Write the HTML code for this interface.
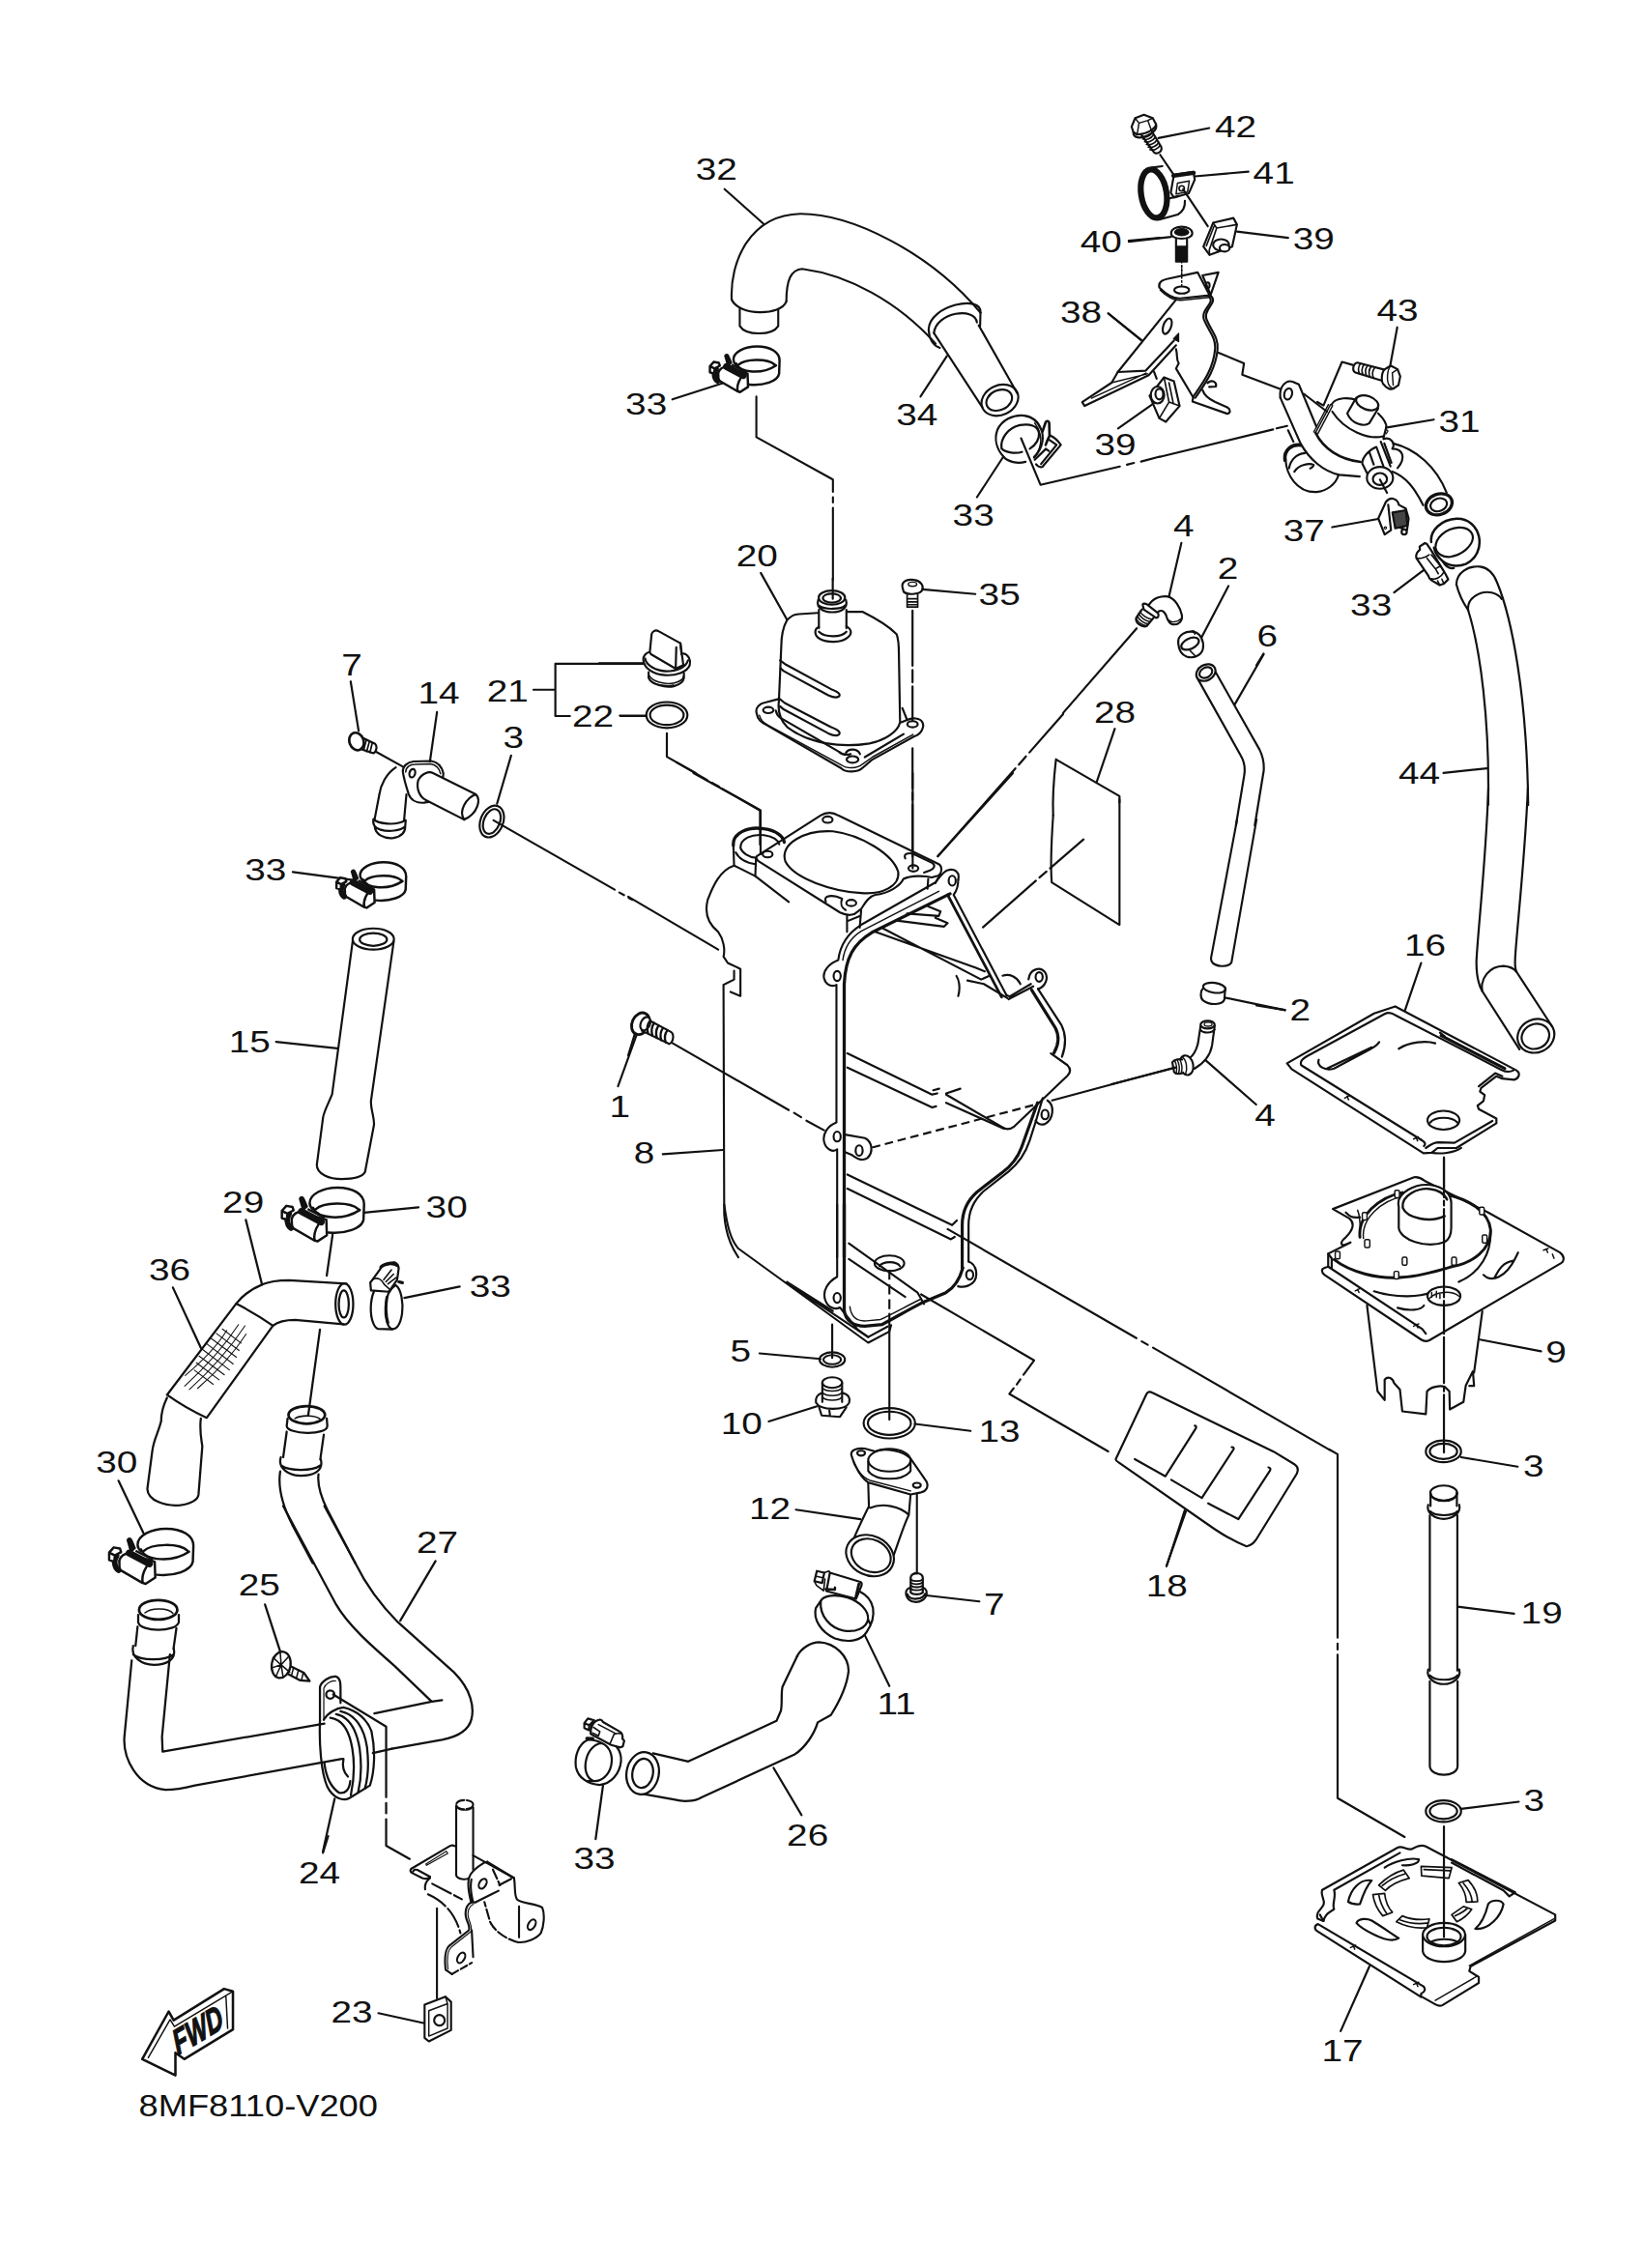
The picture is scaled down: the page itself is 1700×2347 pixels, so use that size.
<!DOCTYPE html>
<html><head><meta charset="utf-8"><title>8MF8110-V200</title>
<style>
html,body{margin:0;padding:0;background:#fff}
svg{display:block}
.d{fill:none;stroke:#111;stroke-width:2;stroke-linecap:round;stroke-linejoin:round}
.t{font-family:"Liberation Sans",Arial,sans-serif;fill:#111;stroke:none}
.w{fill:#fff}
.k{fill:#111}
</style></head><body>
<svg width="1700" height="2347" viewBox="0 0 1700 2347">
<rect width="1700" height="2347" fill="#fff"/>
<!-- tile [600,100,1200,600] scale 2.7383 -->
<g transform="translate(600,100) scale(0.365193)" class="d" style="stroke-width:5.82">
<!-- hose 32 -->
<path d="M430,575 C425,470 480,335 625,332 C770,332 990,440 1135,612"/>
<path d="M585,580 C585,520 598,490 630,488 C760,505 900,580 1008,700"/>
<path d="M430,575 C450,622 570,622 585,580"/>
<path d="M453,602 V650 C470,678 545,678 562,650 V603"/>
<!-- collar -->
<path d="M1135,612 C1140,560 990,590 988,660 C990,690 1000,705 1020,712"/>
<path d="M1125,640 C1120,595 1010,610 1003,670"/>
<path d="M1135,612 L1134,650"/>
<!-- tube 34 -->
<path d="M1003,670 L1140,880"/>
<path d="M1130,648 L1240,842"/>
<ellipse cx="1190" cy="860" rx="54" ry="42" transform="rotate(-25 1190 860)"/>
<ellipse cx="1188" cy="860" rx="38" ry="28" transform="rotate(-25 1188 860)"/>
<!-- leaders -->
<path d="M410,262 L520,360"/>
<path d="M1040,735 L965,850"/>
<path d="M262,858 L405,812"/>
<path d="M1125,1135 L1200,1020"/>
<!-- dash line from clamp to 20 -->
<path d="M500,850 V965 L717,1085 V1120 M717,1135 V1150 M717,1165 V1369"/>
<!-- clamp 33 right: see l01 -->
<path d="M1250,968 L1305,1100 L1530,1048 M1550,1043 L1570,1038 M1590,1034 L1643,1020"/>
<!-- leaders right side -->
<path d="M1555,408 L1643,400"/>
<path d="M1498,615 L1590,690"/>
<path d="M1525,940 L1625,870"/>
</g>

<!-- tile [1100,100,1400,350] scale 5.4767 -->
<g transform="translate(1100,100) scale(0.182593)" class="d" style="stroke-width:11.76">
<!-- bolt 42 -->
<path d="M440,212 L512,312 C525,335 565,312 556,285 L500,192" class="w"/>
<path d="M452,240 C470,250 500,238 512,215 M462,255 C480,265 510,250 522,230 M472,270 C490,280 520,265 532,245 M482,285 C500,295 530,280 542,260 M492,300 C510,310 540,295 550,275 M447,225 C465,235 495,225 505,202" style="stroke-width:9"/>
<path d="M398,200 C395,235 440,240 475,222 C510,205 535,180 525,155" />
<path d="M388,170 L408,122 L458,103 L508,122 L527,158 C520,185 470,215 420,215 L398,200 Z" class="w"/>
<path d="M408,122 L430,150 L480,135 L508,122 M430,150 L420,212 M480,135 L500,190" style="stroke-width:8"/>
<path d="M540,235 L828,178"/>
<path d="M550,330 L625,440"/>
<!-- ring 41 -->
<path d="M505,402 L562,394"/>
<ellipse cx="514" cy="550" rx="72" ry="138" transform="rotate(-9 514 550)" style="stroke-width:34"/>
<path d="M628,442 L738,426 L746,470 L712,548 L628,572 L610,545 Z" class="w"/>
<path d="M625,448 L740,432" style="stroke-width:24"/>
<path d="M648,490 L715,478 L705,540 L640,552 Z" style="stroke-width:8"/>
<circle cx="672" cy="520" r="15" style="stroke-width:9"/>
<path d="M545,697 L650,668 C680,650 692,625 690,590"/>
<path d="M600,578 L655,562"/>
<path d="M746,452 L1050,425"/>
<path d="M680,525 L820,735"/>
<!-- nut 39 upper -->
<path d="M795,850 L850,715 L965,688 L985,725 L958,850 L830,897 Z" class="w"/>
<path d="M850,715 L870,745 L985,725 M870,745 L828,870 L830,897 M812,845 L855,735" style="stroke-width:9"/>
<ellipse cx="895" cy="840" rx="45" ry="32" class="w"/>
<ellipse cx="915" cy="858" rx="28" ry="20" class="w"/>
<path d="M985,765 L1275,800"/>
<!-- bolt 40 -->
<path d="M612,775 C612,725 732,725 732,775 C732,815 612,815 612,775 Z" class="w"/>
<ellipse cx="672" cy="768" rx="40" ry="20" class="k" style="stroke-width:6"/>
<path d="M640,808 V850 M702,808 V850"/>
<rect x="640" y="850" width="62" height="85" class="k"/>
<path d="M372,822 L612,795"/>
<path d="M672,960 V1100" stroke-dasharray="14 8" style="stroke-width:8;stroke-linecap:butt"/>
</g>

<!-- tile [1100,270,1400,520] scale 5.4767 -->
<g transform="translate(1100,270) scale(0.182593)" class="d" style="stroke-width:11.76">
<!-- bracket 38 -->
<path d="M790,82 L880,65 L836,192 Z"/>
<ellipse cx="820" cy="138" rx="10" ry="16"/>
<path d="M545,150 C538,120 560,108 600,100 L762,65 L830,195 L665,212 C620,215 580,185 545,150 Z" class="w"/>
<path d="M550,165 C585,200 625,225 668,223 L828,207" style="stroke-width:8"/>
<ellipse cx="672" cy="165" rx="42" ry="20"/>
<path d="M672,0 V150" stroke-dasharray="14 8" style="stroke-width:8;stroke-linecap:butt"/>
<path d="M640,220 L310,630"/>
<path d="M255,297 L445,450"/>
<path d="M838,198 C880,240 792,270 812,330 C840,400 880,430 875,500 C865,620 800,700 750,775"/>
<path d="M826,200 C866,242 778,270 798,332 C826,402 866,432 861,500 C851,616 788,696 738,768 L733,797 L930,866 C952,862 948,840 930,830 L862,800 C830,785 800,762 790,732"/>
<path d="M818,692 C845,668 872,688 866,712 L828,714"/>
<ellipse cx="590" cy="370" rx="22" ry="46" transform="rotate(20 590 370)"/>
<path d="M625,442 L655,410 L655,458 Z" class="k" style="stroke-width:6"/>
<path d="M310,630 L468,622 L628,452"/>
<path d="M310,630 L275,690 L108,800 L122,822 L485,648 L640,478"/>
<path d="M275,690 L478,640 M160,778 L470,636" style="stroke-width:8"/>
<path d="M640,500 C650,540 640,560 655,580 L640,610 L738,775"/>
<path d="M515,628 L530,668"/>
<!-- nut 39 lower -->
<path d="M490,765 L572,660 L628,682 L660,822 L582,912 L545,892 Z" class="w"/>
<path d="M572,660 L600,800 L660,822 M600,800 L545,892 M600,690 L625,810" style="stroke-width:9"/>
<ellipse cx="535" cy="760" rx="38" ry="48" class="w"/>
<ellipse cx="545" cy="755" rx="22" ry="30" class="w"/>
<!-- step line to pump -->
<path d="M880,520 L1025,580 L1015,645 L1280,745"/>
<!-- long dash line -->
<path d="M548,1110 L1190,955 M1210,949 L1270,935 M1275,960 L1305,1025"/>
</g>

<!-- tile [1300,300,1600,550] scale 5.4767 -->
<g transform="translate(1300,300) scale(0.182593)" class="d" style="stroke-width:11.76">
<path d="M798,212 L758,430"/>
<!-- bolt 43 -->
<path d="M572,412 C545,418 540,462 565,470 L735,522 L748,458 Z" class="w"/>
<path d="M590,418 C575,435 575,460 585,476 M610,424 C595,440 595,466 605,482 M630,430 C615,446 615,472 625,488 M650,436 C635,452 635,478 645,494 M670,442 C655,458 655,484 665,500" style="stroke-width:9"/>
<path d="M735,445 C710,455 700,520 725,540 C735,560 765,565 775,560 L805,540 L815,490 L800,450 L762,430 Z" class="w"/>
<path d="M762,430 C740,450 735,520 755,545 M755,545 L775,560 M800,450 L770,470 L775,540" style="stroke-width:8"/>
<path d="M545,425 L485,408 L380,655 L345,635"/>
<!-- left hose elbow -->
<path d="M165,960 C170,1050 230,1150 340,1145 C400,1140 450,1100 465,1050"/>
<path d="M162,965 C155,905 200,872 255,880" style="stroke-width:20"/>
<path d="M215,1030 C240,990 300,980 325,992 C322,1002 315,1008 305,1012"/>
<path d="M185,1010 C195,960 230,930 275,925"/>
<!-- arm -->
<path d="M135,610 C128,545 170,508 205,520 L240,535 L340,775 L420,650 L560,625 L735,780 L720,840 L600,975 L585,1058 L470,1048 C380,1030 300,960 250,870 Z" fill="#fff" stroke="none"/>
<path d="M135,610 C128,545 170,508 205,520 L240,535 L340,775"/>
<path d="M135,610 L250,870 C300,960 380,1030 470,1048 L585,1058"/>
<path d="M270,590 L400,690"/>
<ellipse cx="180" cy="590" rx="22" ry="32" transform="rotate(15 180 590)"/>
<!-- body -->
<path d="M335,810 C380,900 470,960 590,975" style="stroke-width:14"/>
<path d="M420,650 L335,810 M408,650 L325,805 M432,655 L348,815" style="stroke-width:8"/>
<path d="M425,650 C450,605 530,610 570,625 M690,700 C720,730 740,760 735,780"/>
<path d="M430,690 C500,800 640,850 718,830"/>
<path d="M735,780 L720,840"/>
<!-- top port -->
<path d="M565,612 L515,700 C540,760 610,778 640,755 L690,672" class="w"/>
<ellipse cx="628" cy="640" rx="66" ry="38" transform="rotate(20 628 640)" class="w"/>
<!-- leader 31 -->
<path d="M1005,735 L740,780"/>
<path d="M735,790 L745,800 L735,815" style="stroke-width:7"/>
<!-- right hose elbow -->
<path d="M775,870 C900,900 1020,1000 1078,1150"/>
<path d="M770,1030 C850,1060 900,1130 945,1220"/>
<ellipse cx="1035" cy="1215" rx="76" ry="58" transform="rotate(-20 1035 1215)" style="stroke-width:18" class="w"/>
<ellipse cx="1033" cy="1218" rx="48" ry="36" transform="rotate(-20 1033 1218)"/>
<!-- sensor boss -->
<path d="M720,845 C760,830 790,870 770,900 C830,900 850,950 800,1010"/>
<path d="M705,860 L760,1000 M725,870 L765,980" style="stroke-width:12"/>
<path d="M630,1045 L600,985 C598,950 640,905 680,890 L720,1000" class="w"/>
<path d="M640,920 L665,990"/>
<ellipse cx="700" cy="1065" rx="74" ry="62" class="w"/>
<ellipse cx="700" cy="1072" rx="40" ry="34"/>
<path d="M700,1075 L740,1150"/>
</g>

<!-- tile [1300,500,1700,833] scale 4.1075 -->
<g transform="translate(1300,500) scale(0.243457)" class="d" style="stroke-width:8.96">
<!-- sensor 37 -->
<path d="M518,150 L550,80 C570,55 600,65 605,92 L635,108 L647,150 L640,200 L612,190 M518,150 L545,218 L572,200 L560,92"/>
<path d="M578,125 L635,115 L642,180 L590,192 Z" fill="#444"/>
<circle cx="628" cy="207" r="11" class="w"/>
<circle cx="548" cy="190" r="5" style="stroke-width:5"/>
<path d="M322,187 L518,152"/>
<path d="M585,465 L710,370"/>
<!-- hose 44 upper -->
<path d="M850,430 C850,380 900,350 950,355 C990,360 1010,390 1022,420 C1085,570 1150,900 1155,1368"/>
<path d="M850,430 C860,470 880,510 900,540 C950,700 992,1000 985,1368"/>
<path d="M900,540 C893,490 950,455 1000,465 C1020,470 1035,480 1042,492"/>
<path d="M795,1232 L980,1212"/>
<path d="M30,725 L0,775"/>
</g>

<!-- tile [1300,820,1700,1153] scale 4.1075 -->
<g transform="translate(1300,820) scale(0.243457)" class="d" style="stroke-width:8.96">
<path d="M986,-20 C975,300 940,600 935,720 C935,780 945,820 960,845 L1118,1092"/>
<path d="M1154,-20 C1140,300 1105,600 1100,700 C1098,730 1100,750 1105,762 L1255,992"/>
<path d="M960,845 C950,790 990,740 1050,738 C1080,740 1095,750 1105,762"/>
<ellipse cx="1188" cy="1035" rx="80" ry="70" transform="rotate(-25 1188 1035)"/>
<ellipse cx="1186" cy="1037" rx="60" ry="52" transform="rotate(-25 1186 1037)"/>
<path d="M700,725 L632,925"/>
<path d="M0,905 L120,925"/>
</g>
<!-- tile [1300,1020,1700,1353] -->
<g transform="translate(1300,1020) scale(0.243457)" class="d" style="stroke-width:8.96">
<!-- plate 16 -->
<path d="M130,330 L500,118 L590,88 L1105,360 C1125,372 1115,395 1095,400 L1045,395 L1020,385 L955,435 L950,450 L970,465 L965,490 L940,510 L945,525 L1020,565 L1020,585 L850,690 L770,690 L745,710 L710,712 L150,355 Z"/>
<path d="M700,655 L190,338 C185,320 195,312 215,300 L545,120 C560,112 575,115 590,125 L1040,357 C1060,367 1080,367 1092,360"/>
<path d="M700,655 C715,665 722,672 712,682 M720,690 C735,680 750,666 775,666 L842,668 L1003,575"/>
<path d="M1045,385 L1015,372 L945,428"/>
<path d="M785,212 L1055,352" style="stroke-width:13"/>
<path d="M780,200 L800,215" />
<path d="M265,315 C255,340 290,365 330,352 L480,272 C495,265 515,250 522,240 M300,352 L490,262"/>
<path d="M605,268 C650,240 720,232 760,245"/>
<ellipse cx="795" cy="572" rx="68" ry="40"/>
<path d="M738,582 C760,555 830,555 855,582"/>
<path d="M745,710 C780,716 840,712 870,690"/>
<path d="M375,478 L395,468 M385,470 L392,485 M668,652 L688,642 M678,645 L685,660" style="stroke-width:6"/>
<path d="M797,735 V900 M797,915 V935 M797,950 V1330"/>
</g>

<!-- tile [1300,1200,1700,1533] scale 4.1075 -->
<g transform="translate(1300,1200) scale(0.243457)" class="d" style="stroke-width:8.96">
<!-- pump 9 funnel body -->
<path d="M470,620 L515,985 L545,1022 L545,935 C560,918 580,930 585,950 L610,978 L620,1070 L720,1082 L725,985 C740,965 780,960 800,965 L820,985 L822,1062 L880,1030 L890,960 L920,900 L925,962 L905,962"/>
<path d="M960,645 L925,905"/>
<!-- base plate -->
<path d="M325,210 L670,75 C690,72 700,78 715,90 L985,225 L1290,395 C1310,410 1310,430 1295,440 L735,768 C720,775 710,772 700,765 L290,490 C275,478 275,465 290,460 L305,455 L305,400 L400,352 L370,365 C355,360 360,345 380,330 C410,300 420,270 395,250 Z" class="w"/>
<path d="M305,455 L705,720 L720,740 M305,400 L320,420 L320,462 M380,225 C395,240 405,250 440,245"/>
<path d="M600,630 C650,645 700,640 712,620"/>
<!-- lid -->
<path d="M995,300 C1000,400 950,480 860,520 M500,560 C600,592 700,582 740,565"/>
<path d="M330,425 C400,480 520,510 620,500 C700,495 780,470 830,455 C920,440 998,380 995,300 C990,220 900,170 815,150" style="stroke-width:12"/>
<path d="M440,330 C430,240 520,160 620,140" style="stroke-width:12"/>
<path d="M455,335 C445,250 530,175 625,155 M430,215 C445,250 440,300 440,330" style="stroke-width:6"/>
<!-- top port -->
<path d="M605,290 V200 C590,140 680,100 740,108 C800,116 830,150 828,190 V290 C828,320 820,340 800,350 C720,380 610,340 605,290 Z" class="w"/>
<path d="M622,205 C615,150 690,118 740,125 C770,128 800,145 810,170 M622,205 C640,250 740,270 800,240" style="stroke-width:10"/>
<!-- studs -->
<g class="w" style="stroke-width:6">
<rect x="588" y="130" width="20" height="32" rx="6"/><rect x="450" y="225" width="20" height="32" rx="6"/><rect x="460" y="340" width="22" height="34" rx="6"/><rect x="335" y="390" width="20" height="32" rx="6"/><rect x="620" y="415" width="20" height="34" rx="6"/><rect x="585" y="475" width="20" height="32" rx="6"/><rect x="830" y="415" width="20" height="34" rx="6"/><rect x="960" y="320" width="20" height="34" rx="6"/><rect x="948" y="202" width="20" height="32" rx="6"/>
</g>
<!-- hole -->
<ellipse cx="797" cy="580" rx="70" ry="40" class="w"/>
<path d="M735,590 C760,560 830,555 860,580 M745,565 V585 M765,560 V585 M780,570 V590" style="stroke-width:6"/>
<!-- swoosh -->
<path d="M965,490 C1000,525 1060,500 1100,420 L1112,395 M1010,505 C1030,470 1040,440 1092,430"/>
<path d="M1220,385 L1240,378 M1232,380 L1238,395 M1258,402 L1265,420 M420,558 L440,548 M430,552 L436,565 M668,708 L690,698 M680,700 L686,715" style="stroke-width:6"/>
<!-- axis -->
<path d="M797,-10 V160 M797,175 V195 M797,210 V585 M797,600 V740 M797,755 V950 M797,965 V985 M797,1000 V1245"/>
<path d="M950,765 L1210,815"/>
<!-- o-ring 3 -->
<ellipse cx="795" cy="1240" rx="75" ry="46"/>
<ellipse cx="795" cy="1240" rx="58" ry="33"/>
<path d="M870,1265 L1110,1305"/>
</g>

<!-- tile [1300,1500,1700,1833] scale 4.1075 -->
<g transform="translate(1300,1500) scale(0.243457)" class="d" style="stroke-width:8.96">
<!-- tube 19 -->
<path d="M740,185 V240 M852,185 V240"/>
<ellipse cx="796" cy="185" rx="57" ry="32"/>
<path d="M740,185 C745,230 850,230 852,185" />
<path d="M730,235 C720,270 760,295 796,295 C832,295 872,270 862,235"/>
<path d="M738,262 C760,285 835,285 855,262"/>
<path d="M737,280 V940 M854,280 V940 M737,985 V1347 C742,1395 852,1395 855,1347 V985"/>
<path d="M730,935 C720,972 760,997 796,997 C832,997 872,972 862,935"/>
<path d="M737,960 C760,985 835,985 855,960"/>
<path d="M855,668 L1095,698"/>
<!-- vertical long line -->
<path d="M310,0 L345,20 V800 M345,825 V850 M345,872 V1482 L630,1647"/>
<!-- part 18 corner -->
</g>
<!-- tile [1300,1800,1700,2133] -->
<g transform="translate(1300,1800) scale(0.243457)" class="d" style="stroke-width:8.96">
<ellipse cx="795" cy="305" rx="75" ry="46"/>
<ellipse cx="795" cy="305" rx="58" ry="33"/>
<path d="M870,295 L1115,265"/>
<!-- plate 17 -->
<path d="M280,640 L600,460 C620,450 640,472 660,466 C680,455 700,445 720,455 L1270,745 L1270,770 L910,965 L905,985 L945,1010 L945,1035 L790,1130 C780,1135 770,1132 760,1126 L700,1092 L700,1080 C716,1075 720,1060 710,1050 L262,785 C245,790 245,808 260,816 L700,1095" />
<path d="M280,640 C270,660 292,680 286,700 C280,722 250,732 260,762 L285,772"/>
<path d="M330,640 L610,482 M330,640 C340,670 320,700 330,722 C300,740 290,750 285,772 M270,745 L285,772"/>
<path d="M905,962 L1265,762 M760,1110 L940,1005" style="stroke-width:6"/>
<path d="M830,510 L1100,650 L1075,667 L1050,642 L830,524" />
<g style="stroke-width:7">
<path d="M520,620 C550,590 590,565 625,555 L650,590 C610,600 570,620 548,642 Z M535,622 C560,600 595,582 630,572"/>
<path d="M700,540 L830,545 L818,590 L702,580 Z M712,553 L822,558"/>
<path d="M860,610 L900,598 C925,625 940,660 940,690 L892,692 C892,665 880,635 860,610 Z M880,612 C905,640 915,665 917,690"/>
<path d="M830,745 L880,710 L915,722 C900,745 880,762 852,775 Z M845,750 C870,738 890,725 898,716"/>
<path d="M595,775 L620,750 C655,765 700,768 735,763 L725,800 C680,805 635,795 595,775 Z M612,768 C650,782 695,785 730,780"/>
<path d="M495,660 L545,655 C548,685 560,715 578,735 L537,750 C515,725 500,695 495,660 Z M520,660 C525,690 535,715 555,742"/>
</g>
<path d="M390,690 C400,640 440,590 490,600 C470,620 450,670 440,700 C420,702 400,697 390,690 Z"/>
<path d="M545,545 C580,520 650,500 690,510 C692,530 650,537 620,535"/>
<path d="M985,700 C1000,680 1040,680 1050,700 C1040,750 990,810 930,805 C960,780 975,740 985,700 Z"/>
<path d="M425,780 C435,760 470,760 490,770 C540,800 580,830 605,845 C580,862 540,850 500,830 C470,815 440,800 425,780 Z"/>
<!-- boss -->
<path d="M707,830 V900 C715,960 880,960 888,900 V830" class="w"/>
<ellipse cx="797" cy="830" rx="90" ry="50" class="w"/>
<ellipse cx="797" cy="838" rx="72" ry="38"/>
<path d="M740,862 C770,845 830,845 856,862"/>
<path d="M797,370 V840"/>
<path d="M400,885 L422,875 M412,878 L418,892 M668,1042 L690,1032 M680,1035 L686,1050" style="stroke-width:6"/>
<path d="M480,965 L358,1240"/>
</g>

<!-- tile [0,1900,600,2347] scale 2.7383 -->
<g transform="translate(0,1900) scale(0.365193)" class="d" style="stroke-width:5.82">
<!-- FWD arrow -->
<path d="M403,632 L478,497 L492,522 L635,433 L660,440 L660,548 L522,632 L497,614 L497,678 Z" style="stroke-width:7"/>
<path d="M420,628 L482,520 L494,540 L640,452 M640,452 L660,440 M640,452 L645,545" style="stroke-width:4"/>
<!-- clip 23 -->
<path d="M1203,478 L1262,455 L1278,470 L1278,550 L1215,582 L1203,572 Z" class="w"/>
<path d="M1215,495 L1268,475 V545 L1215,567 Z M1262,455 L1268,475" style="stroke-width:4"/>
<circle cx="1245" cy="522" r="15" style="stroke-width:6"/>
<path d="M1072,502 L1200,530"/>
<path d="M1238,205 V460"/>
<path d="M930,0 L915,48"/>
</g>
<g class="t">
<text transform="translate(184,2127) rotate(-31) skewX(-12) scale(0.72,1)" font-size="35" font-weight="bold" font-style="italic" stroke="#111" stroke-width="1.3">FWD</text>
<text x="143.5" y="2189.6" font-size="32.2" textLength="247.5" lengthAdjust="spacingAndGlyphs">8MF8110-V200</text>
</g>

<!-- tile [700,560,1100,893] scale 4.1075 -->
<g transform="translate(700,560) scale(0.243457)" class="d" style="stroke-width:8.96">
<path d="M358,135 L470,335"/>
<path d="M664,160 V245"/>
<!-- part 20 -->
<path d="M470,335 C490,315 500,312 520,310 L600,305 M725,300 L790,300 C850,330 900,360 935,395 C945,420 945,450 945,480 L950,770 M470,335 C450,370 445,400 445,450 L435,680 C430,720 440,760 470,790 C560,860 700,880 820,860 C890,845 940,810 950,770"/>
<ellipse cx="660" cy="240" rx="56" ry="30"/>
<ellipse cx="660" cy="242" rx="38" ry="19"/>
<path d="M602,250 C592,285 625,302 662,302 C700,302 730,285 720,250 M606,275 C630,292 700,292 718,272"/>
<path d="M605,292 V370 M722,292 V370"/>
<path d="M605,365 C583,375 585,402 610,416 C640,432 700,432 725,411 C748,395 745,375 722,362 M605,385 C630,410 700,410 722,385"/>
<path d="M440,507 L465,525 L655,628 C685,640 700,650 690,660 C680,668 660,662 645,655 L455,552 L442,540"/>
<path d="M435,668 L460,688 L655,790 C685,802 700,812 690,822 C680,830 660,824 645,817 L455,715 L440,702"/>
<path d="M430,672 L380,685 C350,690 335,710 340,730 C345,760 360,770 380,780 L700,965 C720,985 770,985 795,960 L830,930 L1010,830 C1040,820 1055,790 1045,770 C1035,750 1000,750 980,760 L955,770"/>
<path d="M422,720 C425,735 428,742 440,750 L690,895 C700,905 720,910 740,905 M800,918 L965,820 M960,710 L980,760"/>
<path d="M720,900 C730,880 770,880 780,905" />
<path d="M352,740 C358,762 368,770 388,782 L702,952 C722,968 768,968 790,948 L832,918 L1005,822" style="stroke-width:6"/>
<ellipse cx="390" cy="718" rx="22" ry="13"/>
<ellipse cx="748" cy="928" rx="25" ry="14"/>
<ellipse cx="1003" cy="778" rx="22" ry="13"/>
<!-- bolt 35 -->
<path d="M960,195 C955,170 985,160 1010,165 C1040,170 1050,190 1045,205 C1040,225 985,232 965,215 Z"/>
<ellipse cx="1003" cy="183" rx="18" ry="9" style="stroke-width:6"/>
<path d="M980,228 V280 H1025 V225 M980,245 H1025 M980,258 H1025 M980,270 H1025" style="stroke-width:7"/>
<path d="M1045,205 L1270,225"/>
<path d="M1003,295 V530 M1003,548 V600 M1003,618 V762 M1003,880 V1050 M1003,1070 V1100 M1003,1120 V1340"/>
<path d="M1643,735 L1500,898 M1485,915 L1455,950 M1440,966 L1110,1340"/>
<path d="M0,940 L130,1015 M150,1027 L180,1043 M195,1053 L355,1145 V1290"/>
</g>

<!-- tile [650,800,1250,1300] scale 2.7383 -->
<g transform="translate(650,800) scale(0.365193)" class="d" style="stroke-width:5.82">
<!-- tank left body -->
<path d="M300,262 C260,275 240,320 225,360 C215,400 230,430 255,450 C270,470 275,500 270,520 L282,538 L318,555 L318,632 L290,620 M270,600 L300,585 L300,560 M270,600 L272,1250 C275,1300 290,1340 312,1372"/>
<!-- filler neck -->
<path d="M298,205 C295,170 340,150 385,158 C420,163 440,180 442,196" style="stroke-width:9"/>
<path d="M318,212 C318,185 350,172 385,176 C410,180 425,190 428,202 M318,212 C322,225 340,238 362,240"/>
<path d="M298,205 L300,262 L360,292 M305,225 C315,245 340,255 360,258"/>
<!-- top flange -->
<path d="M365,235 L545,120 C560,110 580,110 595,120 L880,258 C890,265 890,280 880,290 L860,296 C840,290 800,290 780,300 C770,320 740,340 700,345 C680,350 670,370 660,385 L640,400 C625,405 610,400 600,395 L370,250 C362,245 362,238 365,235 Z"/>
<path d="M445,250 C430,200 500,160 580,165 C660,175 750,230 765,280 C770,320 720,345 660,340 C580,335 470,300 445,250 Z"/>
<ellipse cx="565" cy="132" rx="14" ry="9"/><ellipse cx="395" cy="230" rx="14" ry="9"/><ellipse cx="632" cy="368" rx="14" ry="9"/><ellipse cx="808" cy="270" rx="14" ry="9"/>
<path d="M785,242 C778,228 795,224 810,230 L862,255 C872,262 866,272 855,276 L838,282"/>
<path d="M560,364 C553,350 570,345 590,350 L606,356 C600,370 605,382 616,388"/>
<path d="M362,242 L360,292 L455,365 M620,402 L620,450 M660,390 L656,438 M620,420 L656,405 M850,300 L848,328 M885,285 L870,312"/>
<!-- gasket frame -->
<path d="M935,302 C940,280 925,270 905,275 C890,280 880,300 870,310 L660,430 C620,455 600,490 595,530 C570,540 550,560 555,582 C560,602 580,606 590,600 L590,990 C565,1000 550,1022 555,1045 C560,1066 580,1076 592,1066 L592,1372"/>
<path d="M912,342 L690,452 C640,482 615,522 612,600 L612,1372" style="stroke-width:9"/>
<path d="M880,335 L660,448 C625,470 612,500 608,530" style="stroke-width:4"/>
<ellipse cx="918" cy="305" rx="10" ry="14"/><ellipse cx="592" cy="575" rx="10" ry="14"/><ellipse cx="592" cy="1030" rx="10" ry="14"/>
<path d="M935,302 C935,320 930,335 922,345 L1072,630"/>
<path d="M905,345 L1058,635" style="stroke-width:7.5"/>
<!-- interior ribs -->
<path d="M700,450 L985,552 L1010,562 M722,440 L1000,585 L1022,575 M850,378 L885,392 L880,405 L790,398 M760,418 L895,435 L905,425 L870,410"/>
<path d="M930,575 C940,590 940,615 935,632"/>
<!-- bolt 1: see i01 -->
<path d="M20,735 L0,800"/>
<path d="M125,765 L455,955 M470,963 L490,975 M505,985 L555,1012"/>
<path d="M98,1080 L268,1068"/>
<!-- label 28 sheet -->
<path d="M1392,75 L1392,430 L1200,310 C1195,250 1200,180 1204,120"/>
<path d="M1090,0 L878,235"/>
<path d="M1290,188 L1195,270 M1185,279 L1165,296 M1155,305 L1005,437"/>
<path d="M0,350 L255,500"/>
<path d="M185,0 L375,105 V230"/>
<path d="M806,0 V270"/>
</g>

<!-- tile [650,1250,1250,1750] scale 2.7383 -->
<g transform="translate(650,1250) scale(0.365193)" class="d" style="stroke-width:5.82">
<!-- tank bottom -->
<path d="M272,-10 C280,50 290,90 312,115 L680,382 L740,350 L745,332 M450,210 L470,226 L680,366 L735,336 M450,210 L580,292"/>
<path d="M592,-10 V195 C565,210 550,235 558,260 C565,282 585,290 600,282 L650,345 L680,366"/>
<ellipse cx="592" cy="255" rx="10" ry="14"/>
<path d="M612,-10 V290 C615,320 640,335 670,335 L720,330 C740,320 800,285 830,270 L900,240 C925,225 940,200 948,170" style="stroke-width:9"/>
<path d="M628,280 C632,310 650,322 675,320 L715,316 C740,305 800,272 830,258" style="stroke-width:4"/>
<path d="M625,100 L820,240 L838,272 M625,145 L785,252"/>
<ellipse cx="740" cy="157" rx="42" ry="22"/>
<path d="M712,165 C722,150 760,150 770,165"/>
<!-- long line to 17 -->
<path d="M905,60 L1440,369 M1455,378 L1472,388 M1487,396 L1986,685"/>
<!-- zigzag line to 18 -->
<path d="M830,245 L1150,432 L1120,473 M1111,486 L1101,500 M1092,511 L1080,527 L1360,690"/>
<!-- o-ring 5 -->
<ellipse cx="578" cy="430" rx="36" ry="21"/><ellipse cx="578" cy="430" rx="25" ry="13"/>
<path d="M578,330 V425"/>
<path d="M372,412 L545,428"/>
<!-- plug 10 -->
<path d="M550,495 V550 M606,495 V550"/>
<ellipse cx="578" cy="495" rx="28" ry="15" class="w"/>
<path d="M550,510 C560,522 596,522 606,510 M550,523 C560,535 596,535 606,523 M550,536 C560,548 596,548 606,536" style="stroke-width:4.5"/>
<path d="M550,524 C535,528 530,540 532,552 C545,575 615,575 626,552 C630,540 625,528 606,524" />
<path d="M540,562 L548,588 L600,592 L618,565 M570,574 L572,590"/>
<path d="M398,605 L535,562"/>
<!-- axis 13 -->
<path d="M740,175 V290" stroke-dasharray="28 14" style="stroke-linecap:butt"/>
<path d="M740,300 V600"/>
<ellipse cx="740" cy="610" rx="73" ry="43"/><ellipse cx="740" cy="610" rx="61" ry="33"/>
<path d="M812,612 L970,632"/>
<!-- elbow 12 -->
<path d="M680,780 L682,845 C670,870 655,900 640,935 M800,812 L795,870 C780,900 765,950 750,990 M685,850 C720,835 770,845 795,870"/>
<path d="M632,700 C630,685 650,680 670,682 L700,690 C730,678 780,690 800,710 L845,775 C852,790 845,802 830,806 L800,812 L680,778 C660,765 640,730 632,700 Z" class="w"/>
<path d="M640,720 C650,745 665,765 685,772 L800,802" style="stroke-width:4"/>
<ellipse cx="740" cy="715" rx="60" ry="32"/>
<path d="M680,718 V745 C700,775 780,775 800,745 V718"/>
<ellipse cx="660" cy="695" rx="11" ry="7"/><ellipse cx="818" cy="786" rx="11" ry="7"/>
<ellipse cx="685" cy="985" rx="70" ry="56" transform="rotate(25 685 985)" class="w"/>
<ellipse cx="688" cy="985" rx="58" ry="45" transform="rotate(25 688 985)"/>
<path d="M475,855 L658,882"/>
<!-- bolt 7 -->
<path d="M818,812 V1035"/>
<path d="M845,1098 L995,1115"/>
<path d="M670,1210 L740,1355"/>
<path d="M1580,860 L1525,1015"/>
</g>

<!-- tile [1050,1350,1450,1683] scale 4.1075 -->
<g transform="translate(1050,1350) scale(0.243457)" class="d" style="stroke-width:8.96">
<path d="M430,655 L560,380 C565,370 575,368 585,375 L1100,625 L1190,680 C1205,690 1205,705 1198,720 L1025,1000 C1015,1015 1000,1025 985,1028 C940,1010 880,975 850,955 L440,670 C430,665 428,660 430,655 Z"/>
<path d="M510,657 L640,730 L770,525 C772,518 770,515 765,515 M665,745 L795,822 L930,615 C932,608 928,605 922,606 M822,845 L950,912 L1085,705 C1088,698 1085,692 1078,692"/>
<path d="M722,875 L645,1112"/>
</g>

<!-- tile [1050,520,1450,853] scale 4.1075 -->
<g transform="translate(1050,520) scale(0.243457)" class="d" style="stroke-width:8.96">
<path d="M708,172 L655,400"/>
<!-- fitting 4 upper -->
<path d="M568,440 C585,405 625,395 652,400 C682,410 703,445 710,478 C714,505 695,522 672,518 C655,515 650,500 646,488 C640,468 628,455 612,462 L600,482"/>
<path d="M655,500 C665,512 690,510 705,495" style="stroke-width:6"/>
<path d="M545,440 C540,430 550,428 560,432 L608,470 C615,480 608,492 600,490 L548,455 Z" class="w"/>
<path d="M540,455 L516,490 C510,512 540,532 560,526 L590,490" class="w"/>
<path d="M532,462 C540,480 565,495 582,496 M526,472 C534,490 558,505 575,506 M520,482 C528,500 552,515 568,516 M516,494 C524,510 545,524 562,524" style="stroke-width:6"/>
<path d="M518,535 L205,895"/>
<!-- clip 2 upper -->
<path d="M908,355 L780,600"/>
<path d="M695,600 C690,560 730,545 760,550 C790,555 805,590 800,620 C795,650 760,665 730,655 C705,645 697,625 695,600 Z" class="w"/>
<ellipse cx="745" cy="600" rx="40" ry="22" transform="rotate(-25 745 600)"/>
<path d="M748,548 L760,545 L765,560 M745,630 L770,655" style="stroke-width:6"/>
<!-- tube 6 -->
<path d="M1058,645 L935,858"/>
<path d="M775,745 L960,1075 C975,1100 980,1130 975,1160 L940,1372 M850,715 L1040,1050 C1055,1080 1060,1110 1058,1140 L1020,1372"/>
<ellipse cx="812" cy="723" rx="43" ry="33" transform="rotate(-30 812 723)" class="w"/>
<ellipse cx="812" cy="723" rx="29" ry="21" transform="rotate(-30 812 723)"/>
<!-- 28 -->
<path d="M425,962 L348,1188"/>
<path d="M175,1092 L445,1248 V1275 M175,1092 C165,1180 160,1260 163,1330"/>
</g>

<!-- tile [1150,850,1450,1200] scale 5.4767 -->
<g transform="translate(1150,850) scale(0.182593)" class="d" style="stroke-width:11.76">
<path d="M712,-10 L565,770 C560,800 580,815 620,820 C650,822 670,815 680,800 L822,-10"/>
<!-- clip 2 lower -->
<path d="M520,945 C505,960 500,1000 520,1015 C560,1045 630,1040 640,1010 L645,945"/>
<ellipse cx="583" cy="943" rx="64" ry="28" transform="rotate(8 583 943)"/>
<path d="M648,1000 L985,1070"/>
<!-- fitting 4 lower -->
<path d="M505,1160 L490,1260 C480,1300 460,1330 440,1345 M585,1160 L570,1270 C560,1330 520,1372 470,1402 M505,1182 C520,1202 570,1202 585,1180"/>
<ellipse cx="545" cy="1152" rx="40" ry="22"/>
<ellipse cx="548" cy="1150" rx="22" ry="11" style="stroke-width:7"/>
<ellipse cx="425" cy="1382" rx="38" ry="56" transform="rotate(-12 425 1382)" class="w"/>
<path d="M400,1350 C380,1345 355,1350 345,1365 L355,1420 C365,1435 390,1432 405,1425" class="w"/>
<path d="M372,1350 C385,1375 388,1405 380,1430 M388,1350 C400,1375 402,1405 395,1428 M358,1355 C370,1378 372,1408 366,1430" style="stroke-width:8"/>
<path d="M405,1340 C425,1355 432,1400 420,1430" style="stroke-width:8"/>
<path d="M535,1355 L820,1605"/>
<path d="M365,1395 L0,1490"/>
</g>

<!-- tile [300,620,700,953] scale 4.1075 -->
<g transform="translate(300,620) scale(0.243457)" class="d" style="stroke-width:8.96">
<path d="M258,350 L292,560"/>
<!-- bolt 7 -->
<path d="M300,585 L362,615 C372,625 368,650 355,655 L295,635" class="w"/>
<path d="M312,592 L300,636 M325,598 L313,642 M338,605 L326,648 M350,611 L340,652" style="stroke-width:7"/>
<ellipse cx="283" cy="605" rx="30" ry="38" transform="rotate(-20 283 605)" class="w" style="stroke-width:11"/>
<path d="M368,650 L480,712"/>
<path d="M625,480 L595,690"/>
<!-- part 14 -->
<path d="M450,715 C410,740 385,790 380,830 L360,935 M495,830 L485,940"/>
<path d="M355,935 C350,960 365,975 385,980 C420,990 470,985 490,965 L492,940 M360,965 C362,1000 400,1020 440,1015 C470,1010 490,995 490,965 M355,935 C375,955 450,965 490,940"/>
<path d="M480,735 C478,710 500,692 525,690 L600,688 C625,692 645,710 652,740 L650,760 M480,735 C485,770 495,800 505,830 C515,855 540,868 570,865 L600,860" />
<path d="M492,735 C492,715 510,702 530,702 L598,700 C620,704 636,720 640,742" style="stroke-width:6"/>
<ellipse cx="520" cy="740" rx="12" ry="18" transform="rotate(15 520 740)"/>
<path d="M545,770 C560,740 590,730 610,740 L790,830 C812,850 800,912 740,937 L580,855 C555,845 535,810 545,770 Z" class="w"/>
<path d="M790,830 C750,845 715,900 740,937"/>
<!-- o-ring 3 -->
<path d="M940,665 L880,870"/>
<ellipse cx="858" cy="945" rx="48" ry="70" transform="rotate(22 858 945)"/>
<ellipse cx="858" cy="945" rx="34" ry="55" transform="rotate(22 858 945)"/>
<path d="M865,940 L1380,1235 M1400,1247 L1420,1258 M1440,1270 L1455,1278"/>
<!-- 21/22 bracket -->
<path d="M1035,385 H1128 M1128,275 V497 M1128,275 H1500 M1128,497 H1190 M1405,497 H1515"/>
<path d="M12,1160 L275,1195"/>
</g>

<!-- tile [620,620,820,800] scale 8.215 -->
<g transform="translate(620,620) scale(0.121729)" class="d" style="stroke-width:17.92">
<path d="M420,620 V670 C440,720 560,760 640,738 C690,724 715,700 720,670 V630"/>
<path d="M425,650 C450,700 560,730 640,712 C690,700 712,680 718,655 M430,690 C460,725 560,745 630,730" style="stroke-width:12"/>
<path d="M715,462 C760,470 780,520 770,560 C750,620 650,652 560,646 C460,640 385,590 375,520 C370,480 400,455 430,450" class="w"/>
<path d="M390,505 C400,562 480,610 570,613 C660,613 740,580 755,520"/>
<path d="M430,452 L445,300 C450,275 475,260 500,270 L690,375 L715,560 L650,592 L440,468 Z" class="w"/>
<path d="M650,592 L655,410 M690,375 L700,470"/>
<path d="M0,545 H370"/>
<ellipse cx="575" cy="985" rx="175" ry="110"/>
<ellipse cx="575" cy="985" rx="143" ry="84"/>
<path d="M175,990 H400"/>
<path d="M575,1140 V1340 L820,1479"/>
</g>

<!-- tile [200,850,600,1250] scale 4.1075 -->
<g transform="translate(200,850) scale(0.243457)" class="d" style="stroke-width:8.96">
<path d="M678,505 L590,1160 C570,1210 550,1240 550,1270 L525,1460 C525,1500 580,1520 630,1520 C680,1520 720,1510 730,1490 L768,1290 C770,1260 755,1230 755,1190 L852,510"/>
<ellipse cx="765" cy="500" rx="88" ry="45"/>
<ellipse cx="765" cy="502" rx="58" ry="27"/>
<path d="M352,937 L612,965"/>
</g>

<!-- tile [80,1200,580,1617] scale 3.286 -->
<g transform="translate(80,1200) scale(0.304321)" class="d" style="stroke-width:7.39">
<path d="M573,205 L628,425"/>
<path d="M975,180 L1160,162"/>
<path d="M868,255 L848,395"/>
<!-- hose 29 -->
<path d="M540,490 C560,465 590,440 628,425 C650,415 680,410 720,410 L915,422 M665,565 C690,545 720,545 740,545 L905,560"/>
<ellipse cx="908" cy="491" rx="30" ry="70"/>
<ellipse cx="906" cy="491" rx="17" ry="46"/>
<!-- sleeve 36 -->
<path d="M540,490 C580,510 630,540 665,565 L440,878 C400,860 340,825 305,800 Z"/>
<g style="stroke-width:3.5"><path d="M493,576 L557,624 M473,591 L550,649 M455,608 L541,672 M438,625 L530,695 M425,645 L517,715 M414,668 L500,732 M405,691 L482,749 M398,716 L462,764 M508,581 Q464,653 367,734 M548,561 Q480,665 365,770 M570,565 Q496,677 381,782 M574,593 Q512,689 409,778"/></g>
<path d="M325,435 L420,640"/>
<path d="M305,810 C290,840 285,870 285,890 C275,930 260,950 255,990 L238,1120 C240,1160 300,1180 350,1175 C390,1170 410,1155 412,1140 L425,975 C420,940 415,920 420,880"/>
<path d="M140,1092 L225,1270"/>
<path d="M1112,470 L1300,432"/>
<path d="M825,578 L785,870"/>
<!-- hose 27 top -->
<ellipse cx="780" cy="868" rx="62" ry="30" style="stroke-width:9"/>
<path d="M740,880 C760,868 810,868 825,882" style="stroke-width:5"/>
<path d="M715,880 L712,905 C712,935 850,940 850,905 L848,880 M712,925 L700,1012 M838,935 L826,1020"/>
<path d="M692,1012 C680,1050 720,1075 760,1075 C800,1075 838,1060 828,1020 M693,1040 C720,1060 800,1060 826,1040"/>
<path d="M690,1060 C680,1120 700,1180 730,1240 L800,1372 M820,1070 C815,1110 830,1150 850,1190 L945,1372"/>
</g>

<!-- tile [80,1560,580,1977] scale 3.286 -->
<g transform="translate(80,1560) scale(0.304321)" class="d" style="stroke-width:7.39">
<!-- hose 27 -->
<path d="M700,-5 L880,330 C920,400 1000,470 1080,540 L1205,660 L1240,655"/>
<path d="M840,-5 L945,189 C980,260 1030,330 1090,390 L1280,560 C1340,620 1350,680 1340,720 C1330,760 1290,780 1240,790 L1070,820"/>
<path d="M1205,660 L1010,700 M840,735 L290,830 L288,780 L315,500"/>
<path d="M185,520 L160,780 C155,850 200,950 300,960 C340,960 380,950 400,945 L900,855 M1005,835 L1070,820"/>
<ellipse cx="275" cy="348" rx="65" ry="33" style="stroke-width:9"/>
<path d="M230,358 C250,340 310,340 325,360" style="stroke-width:5"/>
<path d="M207,365 V390 C215,425 335,425 345,390 V365 M205,405 L198,470 M337,410 L327,480"/>
<path d="M190,470 C180,510 220,535 260,535 C300,535 337,520 328,480 M190,500 C215,522 300,522 327,500"/>
<path d="M1218,182 L1098,385"/>
<path d="M638,330 L690,490"/>
<!-- screw 25 -->
<path d="M715,535 L770,562 L790,590 L758,588 L705,560" class="w"/>
<path d="M735,545 L728,572 M752,553 L745,580 M768,562 L762,588" style="stroke-width:5"/>
<ellipse cx="693" cy="535" rx="32" ry="45" transform="rotate(10 693 535)" class="w"/>
<path d="M693,535 L665,510 M693,535 L690,492 M693,535 L720,505 M693,535 L662,545 M693,535 L675,575 M693,535 L700,578 M693,535 L722,560" style="stroke-width:5"/>
<!-- clamp 24 -->
<path d="M825,725 L825,610 C830,590 860,572 880,575 C895,580 895,600 895,620 L895,665" />
<path d="M838,720 V615 C842,600 862,588 878,590" style="stroke-width:4"/>
<circle cx="860" cy="636" r="14"/>
<path d="M870,636 L1050,745 V985 M1050,1005 V1040 M1050,1060 V1150 L1130,1195"/>
<path d="M825,725 C822,800 828,900 850,950 C870,990 905,1000 925,988 L995,945 C1010,900 1015,830 1000,760 C985,720 950,690 905,680 C880,682 850,700 838,722"/>
<path d="M860,715 C900,720 925,760 935,820 C945,880 940,930 930,978 M880,703 C925,712 950,760 960,820 C968,880 965,925 955,968 M895,693 C945,703 975,750 985,815 C992,875 988,920 978,955"/>
<path d="M840,870 C845,910 860,950 890,970 C910,975 925,960 928,930 M905,855 C900,880 905,900 920,915"/>
<path d="M875,990 L835,1170"/>
</g>

<!-- tile [380,1850,620,2050] scale 6.846 -->
<g transform="translate(380,1850) scale(0.146073)" class="d" style="stroke-width:14.56">
<path d="M630,125 V620 C640,650 700,655 720,640 M750,140 V580"/>
<ellipse cx="690" cy="120" rx="60" ry="32" stroke-dasharray="60 18"/>
<path d="M635,140 C660,165 720,165 745,140" style="stroke-width:9"/>
<path d="M310,575 L590,410 C605,405 615,410 625,415 M750,480 L1040,640 M310,575 C300,590 310,600 320,605 L390,640 C420,650 440,640 445,630 M325,592 C330,580 345,578 355,582 L440,628"/>
<path d="M415,540 L560,450 L570,465 L420,550 Z" style="stroke-width:8"/>
<path d="M445,640 C420,660 405,690 410,720 M430,755 C530,800 620,880 660,1030 M460,680 L670,790" stroke-dasharray="150 25"/>
<path d="M735,810 C720,750 710,680 720,640 C730,600 780,560 830,530 L850,525 M770,810 L930,730 M735,812 L770,812 M750,812 C735,750 728,690 738,650" />
<ellipse cx="818" cy="680" rx="24" ry="38" transform="rotate(30 818 680)"/>
<path d="M850,525 L1040,640 C1050,700 1040,760 1060,790 C1080,820 1200,820 1240,850 C1260,900 1250,980 1230,1030 C1200,1070 1120,1100 1070,1095" />
<path d="M1070,1095 C1000,1080 900,1020 870,950 L830,810 M890,580 L940,690" stroke-dasharray="70 22"/>
<path d="M935,690 L1020,645 M1075,840 V1060"/>
<ellipse cx="1165" cy="970" rx="24" ry="40" transform="rotate(30 1165 970)"/>
<path d="M735,815 C700,830 690,880 700,920 C710,960 730,980 720,1010 L580,1120 C550,1150 545,1200 555,1290 L600,1320 M740,1010 L750,1200"/>
<path d="M752,825 C718,840 708,880 716,918 C725,955 745,985 735,1018 L595,1130 C568,1155 562,1200 572,1285" style="stroke-width:8"/>
<path d="M600,1320 L740,1240" stroke-dasharray="50 22"/>
<ellipse cx="665" cy="1205" rx="24" ry="40" transform="rotate(30 665 1205)"/>
</g>

<!-- tile [560,1580,1060,1997] scale 3.286 -->
<g transform="translate(560,1580) scale(0.304321)" class="d" style="stroke-width:7.39">
<path d="M870,440 C885,410 920,392 945,392 C1000,395 1045,440 1045,490 C1040,540 1010,600 985,640 L940,665 C930,700 900,750 860,775 L545,920 C520,935 480,935 455,928 L345,908"/>
<path d="M870,440 L820,545 C815,570 820,600 815,625 L800,660 L500,798 L380,770"/>
<ellipse cx="345" cy="838" rx="55" ry="72" transform="rotate(10 345 838)" class="w"/>
<ellipse cx="345" cy="838" rx="35" ry="50" transform="rotate(10 345 838)"/>
<path d="M790,820 L885,980"/>
<path d="M210,880 L185,1062"/>
</g>

<!-- tile [560,1000,860,1250] scale 5.4767 -->
<g transform="translate(560,1000) scale(0.182593)" class="d" style="stroke-width:11.76">
<path d="M540,390 L435,680"/>
<ellipse cx="563" cy="325" rx="48" ry="64" transform="rotate(25 563 325)" style="stroke-width:16" fill="#fff"/>
<path d="M585,292 L735,372 C755,385 750,430 725,440 L570,365 Z" fill="#fff"/>
<ellipse cx="590" cy="325" rx="26" ry="40" transform="rotate(25 590 325)" fill="#fff"/>
<path d="M615,310 C600,330 598,355 605,378 M640,322 C625,342 623,368 630,392 M665,336 C650,356 648,380 655,405 M690,350 C675,370 673,394 680,418 M715,362 C700,382 698,408 705,430" style="stroke-width:13"/>
</g>

<!-- tile [850,1000,1250,1333] scale 4.1075 -->
<g transform="translate(850,1000) scale(0.243457)" class="d" style="stroke-width:8.96">
<!-- valley to top-right ear -->
<path d="M795,140 L900,85 M785,122 L800,128 L890,75"/>
<path d="M880,55 C885,10 930,0 950,25 C967,50 950,88 920,96"/>
<ellipse cx="925" cy="45" rx="15" ry="20"/>
<path d="M770,40 C800,30 830,45 845,75"/>
<path d="M620,60 L690,75 L790,135"/>
<!-- right gasket upper -->
<path d="M920,96 L1020,250 C1040,290 1040,335 1022,385"/>
<path d="M893,100 L993,260 C1010,292 1010,330 988,368" style="stroke-width:13"/>
<!-- baffle plate -->
<path d="M975,370 L1045,420 C1060,435 1060,450 1045,465 L820,680 C800,695 785,695 770,685 L530,545"/>
<path d="M110,370 L470,545 L492,540 M110,430 L470,600 L487,595 M475,527 L500,520 M530,540 L590,520 M530,580 L775,690"/>
<!-- mid right ear -->
<path d="M960,570 C992,590 987,650 950,670 C930,677 915,667 910,655"/>
<ellipse cx="950" cy="630" rx="15" ry="20"/>
<!-- right gasket lower -->
<path d="M940,560 L912,655 L885,740 C865,800 835,840 795,872 L690,955 C645,995 625,1040 625,1100 L625,1255"/>
<path d="M918,580 L850,770 C835,810 810,845 770,875 L660,960 C615,1000 598,1050 598,1100 L598,1282" style="stroke-width:13"/>
<!-- bottom ear -->
<path d="M625,1255 C662,1268 668,1322 642,1346 C625,1360 600,1365 580,1360"/>
<ellipse cx="630" cy="1311" rx="15" ry="20"/>
<path d="M110,885 L555,1100 L575,1080 M110,945 L550,1160 L566,1150"/>
<!-- tab -->
<path d="M100,715 L185,730 C215,745 222,790 195,815 C175,830 150,817 130,802 L100,790"/>
<ellipse cx="160" cy="783" rx="15" ry="22"/>
<path d="M215,770 L900,590" stroke-dasharray="36 20" style="stroke-linecap:butt"/>
<path d="M980,570 L1500,430"/>
</g>

<g transform="translate(719.95,339.999) scale(0.097375)" class="d" style="stroke-width:25.3">
<path d="M400,330 C400,250 520,190 650,190 C790,190 890,250 890,340 L885,480 C870,560 720,610 570,595 M400,330 C400,350 410,370 430,388 M430,372 C470,472 700,492 852,392 M455,385 C520,322 760,312 840,385"/>
<path d="M310,290 C320,268 340,272 347,290 L378,362 L340,395 Z" fill="#111" style="stroke-width:18.0745"/>
<path d="M240,500 C230,460 260,420 300,410 L520,470 L550,480 L555,620 L470,675 L440,665 L250,555 C240,540 238,520 240,500 Z" fill="#fff"/>
<path d="M520,470 C470,520 430,600 445,665"/>
<path d="M325,405 L505,500" style="stroke-width:72.2978"/>
<path d="M390,388 L525,458" />
<path d="M215,430 C188,470 195,530 232,556" style="stroke-width:58.742"/>
<path d="M150,400 L190,355 L245,365 L255,395 L200,425 Z M150,400 L150,465 L195,480 L200,425" fill="#fff"/>
</g>
<g transform="translate(333.55,873.699) scale(0.097375)" class="d" style="stroke-width:25.3">
<path d="M400,330 C400,250 520,190 650,190 C790,190 890,250 890,340 L885,480 C870,560 720,610 570,595 M400,330 C400,350 410,370 430,388 M430,372 C470,472 700,492 852,392 M455,385 C520,322 760,312 840,385"/>
<path d="M310,290 C320,268 340,272 347,290 L378,362 L340,395 Z" fill="#111" style="stroke-width:18.0745"/>
<path d="M240,500 C230,460 260,420 300,410 L520,470 L550,480 L555,620 L470,675 L440,665 L250,555 C240,540 238,520 240,500 Z" fill="#fff"/>
<path d="M520,470 C470,520 430,600 445,665"/>
<path d="M325,405 L505,500" style="stroke-width:72.2978"/>
<path d="M390,388 L525,458" />
<path d="M215,430 C188,470 195,530 232,556" style="stroke-width:58.742"/>
<path d="M150,400 L190,355 L245,365 L255,395 L200,425 Z M150,400 L150,465 L195,480 L200,425" fill="#fff"/>
</g>
<g transform="translate(274.439,1207.07) scale(0.114903)" class="d" style="stroke-width:21.44">
<path d="M400,330 C400,250 520,190 650,190 C790,190 890,250 890,340 L885,480 C870,560 720,610 570,595 M400,330 C400,350 410,370 430,388 M430,372 C470,472 700,492 852,392 M455,385 C520,322 760,312 840,385"/>
<path d="M310,290 C320,268 340,272 347,290 L378,362 L340,395 Z" fill="#111" style="stroke-width:15.3173"/>
<path d="M240,500 C230,460 260,420 300,410 L520,470 L550,480 L555,620 L470,675 L440,665 L250,555 C240,540 238,520 240,500 Z" fill="#fff"/>
<path d="M520,470 C470,520 430,600 445,665"/>
<path d="M325,405 L505,500" style="stroke-width:61.2693"/>
<path d="M390,388 L525,458" />
<path d="M215,430 C188,470 195,530 232,556" style="stroke-width:49.7813"/>
<path d="M150,400 L190,355 L245,365 L255,395 L200,425 Z M150,400 L150,465 L195,480 L200,425" fill="#fff"/>
</g>
<g transform="translate(95.2705,1559.51) scale(0.117824)" class="d" style="stroke-width:20.91">
<path d="M400,330 C400,250 520,190 650,190 C790,190 890,250 890,340 L885,480 C870,560 720,610 570,595 M400,330 C400,350 410,370 430,388 M430,372 C470,472 700,492 852,392 M455,385 C520,322 760,312 840,385"/>
<path d="M310,290 C320,268 340,272 347,290 L378,362 L340,395 Z" fill="#111" style="stroke-width:14.9376"/>
<path d="M240,500 C230,460 260,420 300,410 L520,470 L550,480 L555,620 L470,675 L440,665 L250,555 C240,540 238,520 240,500 Z" fill="#fff"/>
<path d="M520,470 C470,520 430,600 445,665"/>
<path d="M325,405 L505,500" style="stroke-width:59.7503"/>
<path d="M390,388 L525,458" />
<path d="M215,430 C188,470 195,530 232,556" style="stroke-width:48.5471"/>
<path d="M150,400 L190,355 L245,365 L255,395 L200,425 Z M150,400 L150,465 L195,480 L200,425" fill="#fff"/>
</g>
<!-- tile [1010,410,1130,510] scale 13.69 -->
<g transform="translate(1010,410) scale(0.073037)" class="d" style="stroke-width:30.24">
<path d="M700,930 C580,960 450,930 390,860 C300,760 250,620 300,480 C360,340 520,260 680,275 C800,290 880,360 920,470 C960,560 960,720 820,870"/>
<path d="M650,790 C540,820 400,790 360,740 C340,600 450,450 620,410 C760,385 870,420 890,520 C900,600 850,690 760,745"/>
<path d="M830,380 C900,470 940,600 900,720 C880,790 850,830 815,860" style="stroke-width:20"/>
<path d="M940,500 L985,370 C995,345 1030,345 1035,380 L1040,560 C1020,600 1000,650 985,690" style="stroke-width:36"/>
<path d="M1045,555 C1100,580 1160,630 1200,690 L940,1000 C910,1015 870,990 850,965 M1040,620 L1140,690 L920,960 M990,750 L1030,775 M830,900 L990,745" />
</g>

<!-- tile [1440,520,1560,620] scale 13.69 -->
<g transform="translate(1440,520) scale(0.073037)" class="d" style="stroke-width:30.24">
<path d="M560,560 C540,400 700,240 920,230 C1080,225 1200,330 1235,480 C1270,640 1200,800 1050,870 C940,915 800,900 720,830 C640,760 610,700 600,640" style="stroke-width:34"/>
<path d="M620,640 C620,500 760,370 950,355 C1080,350 1150,420 1150,500 C1140,620 1000,740 830,770 C730,780 640,730 620,640 Z"/>
<path d="M720,830 C760,900 820,940 880,930"/>
<path d="M350,790 C330,740 370,690 400,670 L395,625 L470,575 L500,590 L560,680 L760,1010 L800,1090 L740,1150 L680,1170 L560,1100 C540,1090 525,1060 520,1040 Z" fill="#fff"/>
<path d="M350,790 C400,800 480,780 530,740 M500,790 L620,940 M560,740 L690,900 M620,940 L690,900 M620,940 L660,1010 M690,900 L735,970 M560,1080 C620,1100 700,1060 735,990 M680,1170 L650,1110 M740,1150 L710,1085" style="stroke-width:22"/>
</g>

<!-- tile [370,1290,490,1390] scale 13.69 -->
<g transform="translate(370,1290) scale(0.073037)" class="d" style="stroke-width:30.24">
<path d="M230,640 C180,760 170,960 220,1080 C240,1130 260,1160 290,1165 L490,1172"/>
<path d="M540,545 C620,600 650,800 630,950 C610,1080 560,1170 490,1170 C420,1150 385,1000 395,850 C405,720 450,600 540,545 Z"/>
<path d="M415,720 C395,850 400,980 430,1080" style="stroke-width:40"/>
<path d="M190,620 L180,510 L210,470 L320,320 C340,260 420,220 530,225 C570,240 590,290 580,330 L560,470 L470,600 L440,640 Z" fill="#fff"/>
<path d="M210,470 C280,420 350,470 380,540 L450,600 M370,470 L480,330 M400,500 L510,390 M430,530 L545,440" style="stroke-width:22"/>
<path d="M330,290 C380,240 500,225 565,270" style="stroke-width:44"/>
<path d="M585,500 L635,512" style="stroke-width:44"/>
</g>

<!-- tile [590,1770,710,1870] scale 13.69 -->
<g transform="translate(590,1770) scale(0.073037)" class="d" style="stroke-width:30.24">
<path d="M450,465 C380,430 300,410 240,420 C120,480 60,640 80,800 C110,950 250,1050 420,1055 C580,1040 700,900 720,720 C725,640 700,570 660,520"/>
<path d="M450,465 C560,510 610,640 580,780 C550,920 440,1010 330,1000 C230,960 190,830 230,680 C260,560 350,470 450,465 Z M250,1000 L330,1000"/>
<path d="M235,395 L320,400" style="stroke-width:44"/>
<path d="M290,330 C280,250 320,150 420,130 C450,135 460,150 465,165 L700,300 C740,320 745,360 740,400 L765,430 L745,510 L710,525 L580,490 L300,340 Z" fill="#fff"/>
<path d="M200,180 L250,115 L340,140 L270,210 Z M200,180 L200,250 L265,280 L270,210" fill="#fff"/>
<path d="M330,240 L420,300 L400,360 L320,320 M400,200 L650,330 M560,480 L620,340 C640,330 680,320 710,330 M310,170 C290,220 285,280 295,330" style="stroke-width:22"/>
</g>

<!-- tile [820,1610,940,1710] scale 13.69 -->
<g transform="translate(820,1610) scale(0.073037)" class="d" style="stroke-width:30.24">
<path d="M400,640 L330,740 C290,900 400,1080 600,1170 C800,1240 980,1200 1050,1080 C1120,980 1160,860 1140,740 C1120,640 1060,560 960,510"/>
<path d="M400,640 C440,560 600,540 780,590 C960,650 1080,780 1070,900 C1050,1020 900,1090 720,1060 C540,1020 380,860 400,640 Z M1070,900 L1100,965"/>
<path d="M480,500 L530,240 L960,370 C985,380 985,400 975,430 L900,610 Z" fill="#fff"/>
<path d="M310,360 L345,215 L450,240 L420,385 Z" fill="#fff"/>
<path d="M340,290 L432,312 M310,360 L340,420 L440,495 M450,240 L515,215 L530,240 M460,330 L440,495" style="stroke-width:22"/>
<path d="M470,472 L600,480 L602,450" style="stroke-width:34"/>
<path d="M940,400 L895,600" style="stroke-width:40"/>
</g>

<!-- tile [900,1600,1000,1680] scale 16.43 -->
<g transform="translate(900,1600) scale(0.060864)" class="d" style="stroke-width:36.96">
<path d="M700,705 C660,710 610,740 615,800 C620,890 690,950 780,950 C860,950 950,900 965,820 C975,770 950,720 900,705" fill="#fff"/>
<path d="M640,820 C660,880 740,900 800,895 C860,890 920,860 940,810"/>
<path d="M695,790 V530 C695,480 760,455 810,460 C870,470 900,500 900,540 V790 C850,830 740,830 695,790 Z" fill="#fff"/>
<path d="M700,570 C740,602 850,602 895,570 M700,622 C740,654 850,654 895,622 M700,674 C740,706 850,706 895,674 M700,726 C740,758 850,758 895,726 M710,500 C730,470 780,462 800,470" style="stroke-width:30"/>
</g>

<g class="t" font-size="30.5">
<text transform="translate(719.7,186.3) scale(1.27,1)">32</text>
<text transform="translate(647.1,429.2) scale(1.27,1)">33</text>
<text transform="translate(927.2,440.1) scale(1.27,1)">34</text>
<text transform="translate(985.6,544.2) scale(1.27,1)">33</text>
<text transform="translate(761.7,586.2) scale(1.27,1)">20</text>
<text transform="translate(1117.8,261.2) scale(1.27,1)">40</text>
<text transform="translate(1097.0,334.2) scale(1.27,1)">38</text>
<text transform="translate(1132.4,471.2) scale(1.27,1)">39</text>
<text transform="translate(1257.0,142.1) scale(1.27,1)">42</text>
<text transform="translate(1296.6,190.0) scale(1.27,1)">41</text>
<text transform="translate(1337.7,257.5) scale(1.27,1)">39</text>
<text transform="translate(1424.5,331.5) scale(1.27,1)">43</text>
<text transform="translate(1488.4,446.6) scale(1.27,1)">31</text>
<text transform="translate(1327.7,560.1) scale(1.27,1)">37</text>
<text transform="translate(1397.1,636.8) scale(1.27,1)">33</text>
<text transform="translate(1447.0,810.9) scale(1.27,1)">44</text>
<text transform="translate(1300.4,668.5) scale(1.27,1)">6</text>
<text transform="translate(1452.9,988.5) scale(1.27,1)">16</text>
<text transform="translate(1334.5,1056.2) scale(1.27,1)">2</text>
<text transform="translate(1599.2,1409.9) scale(1.27,1)">9</text>
<text transform="translate(1576.0,1527.9) scale(1.27,1)">3</text>
<text transform="translate(1573.6,1680.2) scale(1.27,1)">19</text>
<text transform="translate(1576.5,1873.5) scale(1.27,1)">3</text>
<text transform="translate(308.9,1949.1) scale(1.27,1)">24</text>
<text transform="translate(342.5,2093.3) scale(1.27,1)">23</text>
<text transform="translate(1367.5,2132.8) scale(1.27,1)">17</text>
<text transform="translate(1012.6,626.2) scale(1.27,1)">35</text>
<text transform="translate(655.8,1204.0) scale(1.27,1)">8</text>
<text transform="translate(755.5,1409.4) scale(1.27,1)">5</text>
<text transform="translate(745.8,1483.5) scale(1.27,1)">10</text>
<text transform="translate(1012.4,1491.5) scale(1.27,1)">13</text>
<text transform="translate(775.0,1571.9) scale(1.27,1)">12</text>
<text transform="translate(1018.1,1670.5) scale(1.27,1)">7</text>
<text transform="translate(1185.8,1652.2) scale(1.27,1)">18</text>
<text transform="translate(1214.1,554.6) scale(1.27,1)">4</text>
<text transform="translate(1259.8,598.9) scale(1.27,1)">2</text>
<text transform="translate(1132.0,748.1) scale(1.27,1)">28</text>
<text transform="translate(1298.2,1164.6) scale(1.27,1)">4</text>
<text transform="translate(353.3,698.9) scale(1.27,1)">7</text>
<text transform="translate(432.4,727.6) scale(1.27,1)">14</text>
<text transform="translate(520.5,774.4) scale(1.27,1)">3</text>
<text transform="translate(503.7,725.7) scale(1.27,1)">21</text>
<text transform="translate(591.9,752.0) scale(1.27,1)">22</text>
<text transform="translate(253.3,911.4) scale(1.27,1)">33</text>
<text transform="translate(236.7,1089.1) scale(1.27,1)">15</text>
<text transform="translate(230.1,1255.3) scale(1.27,1)">29</text>
<text transform="translate(440.6,1259.8) scale(1.27,1)">30</text>
<text transform="translate(154.0,1324.7) scale(1.27,1)">36</text>
<text transform="translate(99.2,1523.7) scale(1.27,1)">30</text>
<text transform="translate(485.7,1342.0) scale(1.27,1)">33</text>
<text transform="translate(430.9,1606.8) scale(1.27,1)">27</text>
<text transform="translate(246.8,1650.9) scale(1.27,1)">25</text>
<text transform="translate(814.1,1910.1) scale(1.27,1)">26</text>
<text transform="translate(593.5,1933.5) scale(1.27,1)">33</text>
<text transform="translate(907.4,1774.4) scale(1.27,1)">11</text>
<text transform="translate(630.6,1156.1) scale(1.27,1)">1</text>
</g>
</svg>
</body></html>
